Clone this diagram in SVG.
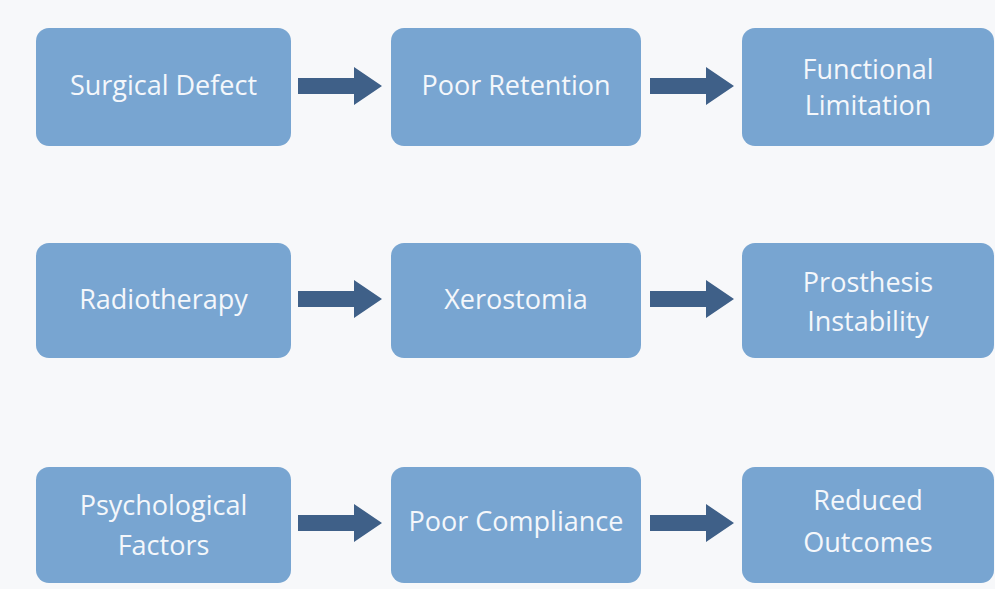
<svg xmlns="http://www.w3.org/2000/svg" width="995" height="589" viewBox="0 0 995 589">
  <defs>
    <style>
      .box { fill: #78a5d1; }
      .lbl { fill: #f4f7fb; font-family: "Open Sans", "Noto Sans", sans-serif; font-size: 27px; text-anchor: middle; }
      .arrow { fill: #3f6088; }
    </style>
    <path id="arr" d="M0,-8 L56,-8 L56,-19 L84,0 L56,19 L56,8 L0,8 Z"/>
  </defs>
  <rect width="995" height="589" fill="#f7f8fa"/>

  <!-- row 1 -->
  <g id="surgical-defect"><rect class="box" x="36" y="28" width="255" height="118" rx="13"/>
    <text class="lbl" x="163.5" y="95">Surgical Defect</text></g>
  <g id="poor-retention"><rect class="box" x="391" y="28" width="250" height="118" rx="13"/>
    <text class="lbl" x="516" y="95">Poor Retention</text></g>
  <g id="functional-limitation"><rect class="box" x="742" y="28" width="252" height="118" rx="13"/>
    <text class="lbl" x="868" y="79">Functional</text><text class="lbl" x="868" y="115">Limitation</text></g>

  <!-- row 2 -->
  <g id="radiotherapy"><rect class="box" x="36" y="243" width="255" height="115" rx="13"/>
    <text class="lbl" x="163.5" y="309">Radiotherapy</text></g>
  <g id="xerostomia"><rect class="box" x="391" y="243" width="250" height="115" rx="13"/>
    <text class="lbl" x="516" y="309">Xerostomia</text></g>
  <g id="prosthesis-instability"><rect class="box" x="742" y="243" width="252" height="115" rx="13"/>
    <text class="lbl" x="868" y="292">Prosthesis</text><text class="lbl" x="868" y="331">Instability</text></g>

  <!-- row 3 -->
  <g id="psychological-factors"><rect class="box" x="36" y="467" width="255" height="116" rx="13"/>
    <text class="lbl" x="163.5" y="515">Psychological</text><text class="lbl" x="163.5" y="555">Factors</text></g>
  <g id="poor-compliance"><rect class="box" x="391" y="467" width="250" height="116" rx="13"/>
    <text class="lbl" x="516" y="531">Poor Compliance</text></g>
  <g id="reduced-outcomes"><rect class="box" x="742" y="467" width="252" height="116" rx="13"/>
    <text class="lbl" x="868" y="510">Reduced</text><text class="lbl" x="868" y="552">Outcomes</text></g>

  <!-- connectors -->
  <g id="connectors" class="arrow">
    <use href="#arr" x="298" y="86"/>
    <use href="#arr" x="650" y="86"/>
    <use href="#arr" x="298" y="299"/>
    <use href="#arr" x="650" y="299"/>
    <use href="#arr" x="298" y="523"/>
    <use href="#arr" x="650" y="523"/>
  </g>
</svg>
